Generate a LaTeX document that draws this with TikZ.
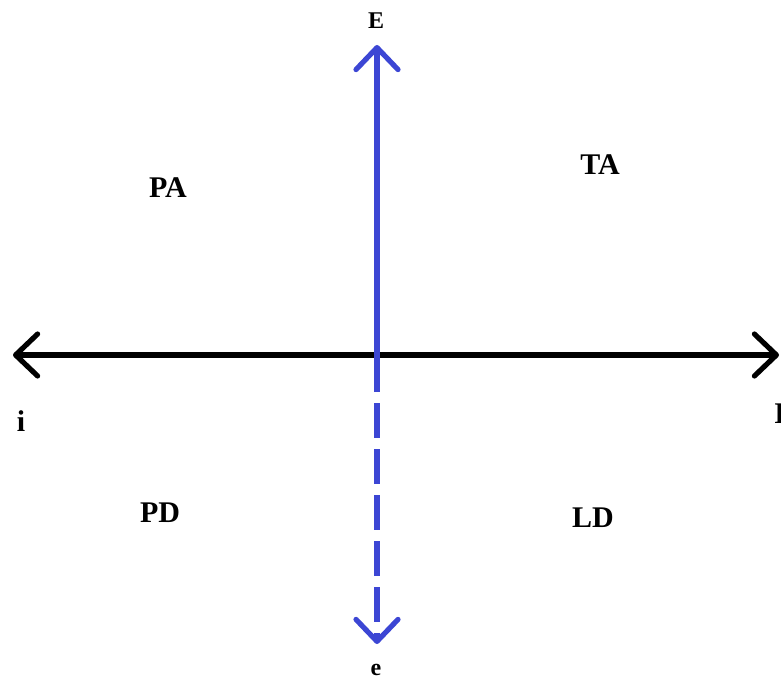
\documentclass[tikz,border=0pt]{standalone}
\usepackage{fontspec}
\setmainfont{Liberation Serif}
\usetikzlibrary{arrows.meta}
\definecolor{axisblue}{RGB}{60,70,212}
\begin{document}
\begin{tikzpicture}[x=.5pt,y=-.5pt,
  lbl/.style={font=\fontsize{15}{17}\selectfont\bfseries,inner sep=0pt},
  endlbl/.style={font=\fontsize{12}{14}\selectfont\bfseries,inner sep=0pt},
  barb/.tip={Straight Barb[length=11pt,width=21pt,line width=2.6pt,line cap=round,line join=round]}]
\useasboundingbox (0,0) rectangle (781,679);
\coordinate (W) at (13,355);\coordinate (Ea) at (779,355);
\coordinate (N) at (377,45);\coordinate (S) at (377,644);\coordinate (D) at (377,392);
\draw[line width=3pt,{barb}-{barb},black] (W)--(Ea);
\draw[line width=2.6pt,axisblue,-{barb}] (D)--(N);
\draw[line width=2.6pt,axisblue,dash pattern=on 17.5pt off 5.5pt,dash phase=17.5pt,-{barb}] (D)--(S);
\node[endlbl] (lE) at (376,21){E};\node[endlbl] (le) at (376,670){e};
\node[lbl] (li) at (21,421){i};\node[lbl] (lI) at (780,414){I};
\node[lbl] (pa) at (168,188){PA};\node[lbl] (ta) at (600,165){TA};
\node[lbl] (pd) at (160,513){PD};\node[lbl] (ld) at (593,518){LD};
\end{tikzpicture}
\end{document}
